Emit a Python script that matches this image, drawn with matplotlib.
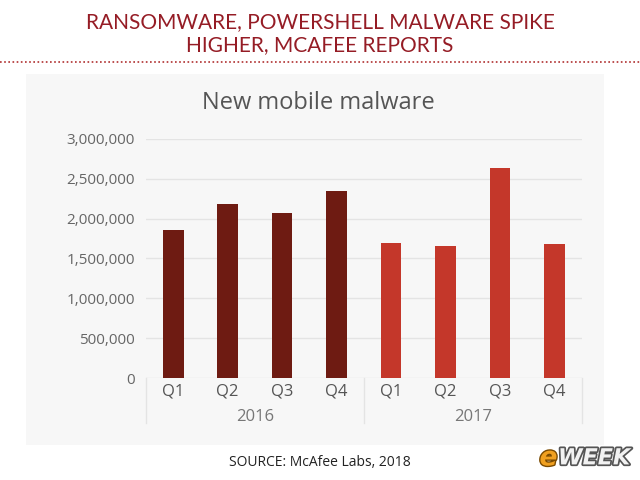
import matplotlib
matplotlib.use("Agg")
import matplotlib.pyplot as plt
from matplotlib.patches import Rectangle
import matplotlib.patheffects as pe
from matplotlib.ticker import FuncFormatter

# data
quarters = ["Q1", "Q2", "Q3", "Q4", "Q1", "Q2", "Q3", "Q4"]
years = ["2016", "2017"]
malware_2016 = [1860000, 2180000, 2070000, 2350000]
malware_2017 = [1700000, 1660000, 2640000, 1680000]
y_ticks = [0, 500000, 1000000, 1500000, 2000000, 2500000, 3000000]

col_2016 = "#6e1b12"
col_2017 = "#c4372a"
header_red = "#951c25"

plt.rcParams["font.family"] = ["Open Sans", "DejaVu Sans"]

fig = plt.figure(figsize=(6.4, 4.8), dpi=100)
fig.patch.set_facecolor("white")

# light grey card behind the chart
fig.patches.append(Rectangle((0.041, 0.073), 0.903, 0.773, transform=fig.transFigure,
                             facecolor="#f7f7f7", edgecolor="none", zorder=-5))

# header
fig.text(0.5, 0.955, "RANSOMWARE, POWERSHELL MALWARE SPIKE", ha="center", va="center",
         fontsize=15, color=header_red, family=["Lato", "DejaVu Sans"])
fig.text(0.5, 0.907, "HIGHER, MCAFEE REPORTS", ha="center", va="center",
         fontsize=15, color=header_red, family=["Lato", "DejaVu Sans"])
fig.add_artist(plt.Line2D([0, 1], [0.871, 0.871], transform=fig.transFigure,
                          color="#b03030", linestyle=(0, (1, 1.5)), linewidth=1.2))

ax = fig.add_axes([0.228, 0.2125, 0.681, 0.498])
ax.set_facecolor("none")

xs = list(range(len(quarters)))
ax.bar(xs[:4], malware_2016, width=0.38, color=col_2016, zorder=3)
ax.bar(xs[4:], malware_2017, width=0.38, color=col_2017, zorder=3)

ax.set_xlim(-0.5, 7.5)
ax.set_ylim(0, 3000000)
ax.set_yticks(y_ticks)
ax.yaxis.set_major_formatter(FuncFormatter(lambda v, p: f"{int(v):,}"))
ax.tick_params(axis="y", length=0, pad=8, labelsize=11, labelcolor="#666666")
ax.set_xticks([])
ax.grid(axis="y", color="#e4e4e4", linewidth=1, zorder=0)
for s in ax.spines.values():
    s.set_visible(False)

# quarter labels and year groups below the axis
tr = ax.get_xaxis_transform()
for x, q in zip(xs, quarters):
    ax.text(x, -0.058, q, transform=tr, ha="center", va="center", fontsize=12, color="#555555")
for i, yr in enumerate(years):
    ax.text(1.5 + 4 * i, -0.163, yr, transform=tr, ha="center", va="center",
            fontsize=12, color="#777777")
for xsep in [-0.5, 3.5, 7.5]:
    ax.plot([xsep, xsep], [0, -0.188], transform=tr, color="#e4e4e4", linewidth=1, clip_on=False)

fig.text(0.497, 0.785, "New mobile malware", ha="center", va="center", fontsize=17, color="#555555")

fig.text(0.5, 0.037, "SOURCE: McAfee Labs, 2018", ha="center", va="center",
         fontsize=10, color="#222222")

# eWEEK mark
fig.text(0.843, 0.045, "e", ha="left", va="center", fontsize=19, fontweight="bold",
         style="italic", color="#f0a020", family=["DejaVu Sans"],
         path_effects=[pe.withStroke(linewidth=2, foreground="#7a4a00")])
fig.text(0.872, 0.045, "WEEK", ha="left", va="center", fontsize=16, fontweight="bold",
         style="italic", color="#f2f2f2", family=["DejaVu Sans"],
         path_effects=[pe.withStroke(linewidth=2.5, foreground="#555555")])

fig.savefig("out.png", dpi=100)
